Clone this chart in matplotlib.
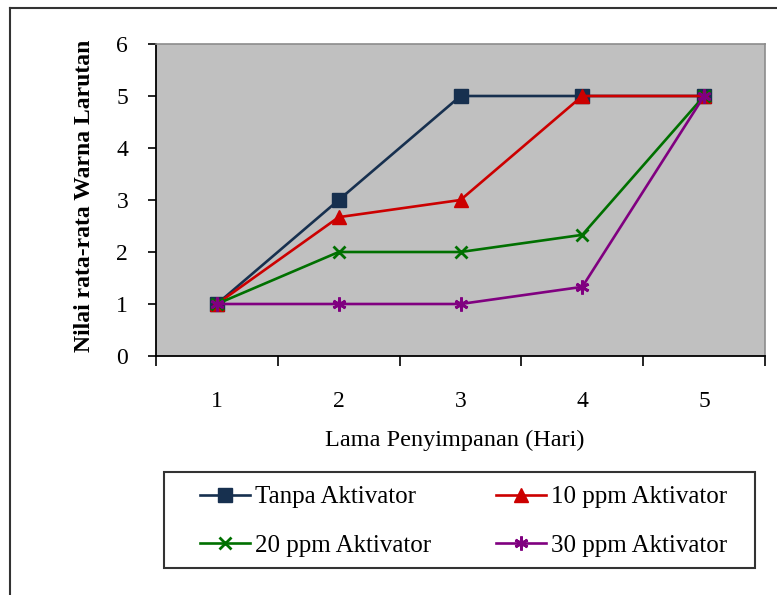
import matplotlib
matplotlib.use("Agg")
import matplotlib.pyplot as plt
from matplotlib.lines import Line2D
from matplotlib.patches import Rectangle

days = [1, 2, 3, 4, 5]
tanpa = [1, 3, 5, 5, 5]
ppm10 = [1, 2.67, 3, 5, 5]
ppm20 = [1, 2, 2, 2.33, 5]
ppm30 = [1, 1, 1, 1.33, 5]
labels = ["Tanpa Aktivator", "10 ppm Aktivator", "20 ppm Aktivator", "30 ppm Aktivator"]

plt.rcParams['font.family'] = ['Liberation Serif', 'DejaVu Serif']

W, H = 777, 595
fig = plt.figure(figsize=(W/100, H/100), dpi=100)
ax = fig.add_axes([156/W, 1-356/H, 609/W, 312/H])
ax.set_facecolor('#c0c0c0')

lw = 1.9
l0, = ax.plot(days, tanpa, color='#17304f', lw=lw, marker='s', ms=10, label=labels[0], zorder=3)
l1, = ax.plot(days, ppm10, color='#cc0000', lw=lw, marker='^', ms=10, label=labels[1], zorder=4)
l2, = ax.plot(days, ppm20, color='#007000', lw=lw, marker='x', ms=9, mew=2, label=labels[2], zorder=5)
l3, = ax.plot(days, ppm30, color='#800080', lw=lw, marker=(6, 2, 0), ms=10, mew=2, label=labels[3], zorder=6)

ax.set_xlim(0.5, 5.5)
ax.set_ylim(0, 6)
ax.set_yticks(range(0, 7))
ax.set_xticks(days)
ax.set_xticks([0.5, 1.5, 2.5, 3.5, 4.5, 5.5], minor=True)
ax.tick_params(axis='x', which='major', length=0, pad=25, labelsize=17)
ax.tick_params(axis='x', which='minor', length=7, width=1.2, direction='out')
ax.tick_params(axis='y', length=6, width=1.2, direction='out', pad=14, labelsize=17)

for s in ['top', 'right']:
    ax.spines[s].set_color('#8c8c8c')
    ax.spines[s].set_linewidth(1.2)
for s in ['left', 'bottom']:
    ax.spines[s].set_color('black')
    ax.spines[s].set_linewidth(1.3)

fig.text(85/W, 1-196/H, "Nilai rata-rata Warna Larutan", rotation=90, ha='center', va='center',
         fontsize=17, fontweight='bold')
fig.text(455/W, 1-440/H, "Lama Penyimpanan (Hari)", ha='center', va='center', fontsize=17.5)

handles = [l0, l2, l1, l3]
leg_labels = [labels[0], labels[2], labels[1], labels[3]]
leg = fig.legend(handles, leg_labels, loc='upper left', bbox_to_anchor=(200/W, 1-486/H),
                 ncol=2, fontsize=18, frameon=False,
                 handlelength=2.0, handletextpad=0.2, labelspacing=1.04, borderpad=0,
                 columnspacing=2.6, borderaxespad=0)

fig.add_artist(Rectangle((164/W, 1-568/H), 591/W, 96/H, transform=fig.transFigure,
                         fill=False, edgecolor='#333333', lw=1.5))

# outer frame (top and left edges visible)
fig.add_artist(Line2D([10/W, 1], [1-8/H, 1-8/H], color='#333333', lw=1.5, transform=fig.transFigure))
fig.add_artist(Line2D([10/W, 10/W], [0, 1-8/H], color='#333333', lw=1.5, transform=fig.transFigure))

fig.savefig('out.png', dpi=100)
